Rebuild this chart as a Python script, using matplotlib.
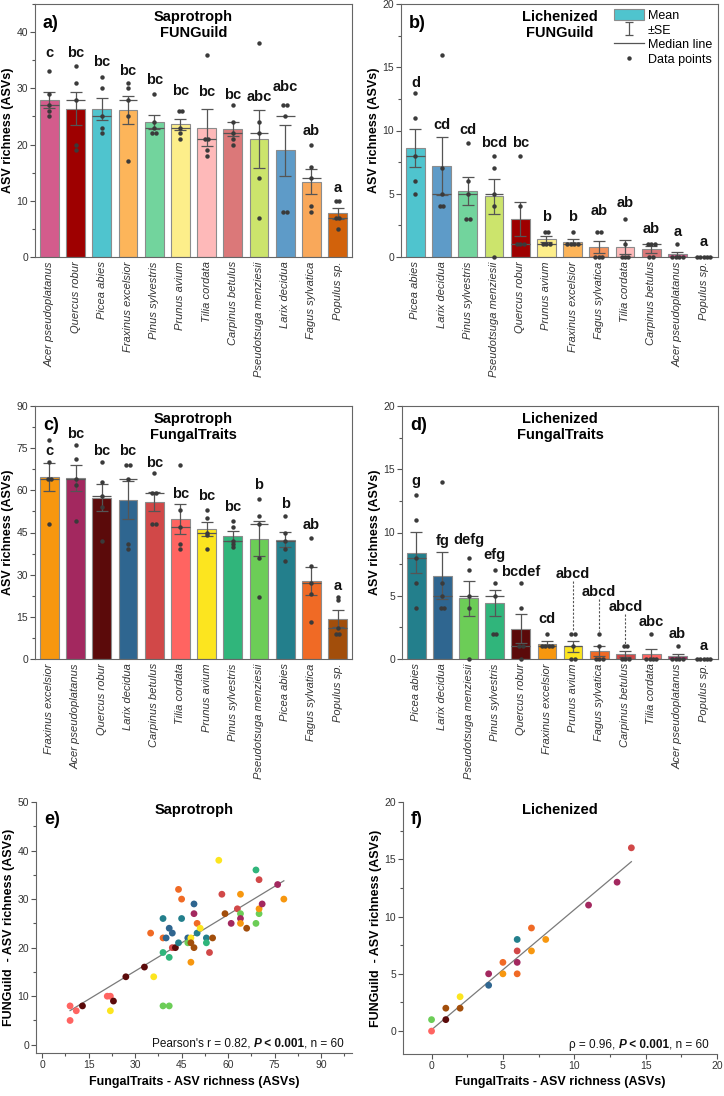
import numpy as np
import matplotlib
matplotlib.use('Agg')
import matplotlib.pyplot as plt
from matplotlib.patches import Patch
from matplotlib.lines import Line2D
from matplotlib.ticker import MultipleLocator

plt.rcParams['font.family'] = ['Liberation Sans', 'DejaVu Sans']
plt.rcParams['axes.edgecolor'] = '#666666'
plt.rcParams['xtick.color'] = '#555555'
plt.rcParams['ytick.color'] = '#555555'
plt.rcParams['xtick.labelcolor'] = '#333333'
plt.rcParams['ytick.labelcolor'] = '#333333'

# ---------------- colour palettes (per tree species) ----------------
pal_fg = {
    'Acer pseudoplatanus': '#D35C8C', 'Quercus robur': '#9E0000', 'Picea abies': '#4FC4CE',
    'Fraxinus excelsior': '#FDB55A', 'Pinus sylvestris': '#72D49D', 'Prunus avium': '#FDEE8A',
    'Tilia cordata': '#FEB9B9', 'Carpinus betulus': '#DB7879', 'Pseudotsuga menziesii': '#CCE46C',
    'Larix decidua': '#5E9BC8', 'Fagus sylvatica': '#F9A85A', 'Populus sp.': '#D2620B'}
pal_fg_b = dict(pal_fg)
pal_fg_b['Fagus sylvatica'] = '#F4935C'
pal_ft = {
    'Fraxinus excelsior': '#F7970F', 'Acer pseudoplatanus': '#A3285F', 'Quercus robur': '#5B0A0A',
    'Larix decidua': '#2F6690', 'Carpinus betulus': '#D14848', 'Tilia cordata': '#FF6461',
    'Prunus avium': '#FCE51F', 'Pinus sylvestris': '#30B57B', 'Pseudotsuga menziesii': '#6CCD57',
    'Picea abies': '#237F8C', 'Fagus sylvatica': '#F06A25', 'Populus sp.': '#A24E0B'}

# ---------------- a) Saprotroph FUNGuild ----------------
a_species = ['Acer pseudoplatanus', 'Quercus robur', 'Picea abies', 'Fraxinus excelsior',
             'Pinus sylvestris', 'Prunus avium', 'Tilia cordata', 'Carpinus betulus',
             'Pseudotsuga menziesii', 'Larix decidua', 'Fagus sylvatica', 'Populus sp.']
a_points = [[33, 29, 27, 26, 25], [34, 31, 28, 20, 19], [32, 30, 25, 23, 22],
            [31, 30, 28, 25, 17], [29, 24, 23, 22, 22], [26, 26, 23, 22, 21],
            [36, 21, 21, 19, 18], [27, 24, 22, 21, 20], [38, 24, 22, 14, 7],
            [27, 27, 25, 8, 8], [20, 16, 14, 9, 8], [10, 10, 7, 7, 5]]
a_letters = ['c', 'bc', 'bc', 'bc', 'bc', 'bc', 'bc', 'bc', 'abc', 'abc', 'ab', 'a']
a_letter_y = [36.2, 36.2, 34.7, 33.1, 31.5, 29.6, 29.3, 28.8, 28.4, 30.3, 22.4, 12.2]

# ---------------- b) Lichenized FUNGuild ----------------
b_species = ['Picea abies', 'Larix decidua', 'Pinus sylvestris', 'Pseudotsuga menziesii',
             'Quercus robur', 'Prunus avium', 'Fraxinus excelsior', 'Fagus sylvatica',
             'Tilia cordata', 'Carpinus betulus', 'Acer pseudoplatanus', 'Populus sp.']
b_points = [[13, 11, 8, 6, 5], [16, 7, 5, 4, 4], [9, 6, 5, 3, 3], [8, 7, 5, 4, 0],
            [8, 4, 1, 1, 1], [2, 2, 1, 1, 1], [2, 1, 1, 1, 1], [2, 2, 0, 0, 0],
            [3, 1, 0, 0, 0], [1, 1, 1, 0, 0], [1, 0, 0, 0, 0], [0, 0, 0, 0, 0]]
b_letters = ['d', 'cd', 'cd', 'bcd', 'bc', 'b', 'b', 'ab', 'ab', 'ab', 'a', 'a']
b_letter_y = [13.75, 10.4, 10.05, 9.0, 9.0, 3.2, 3.2, 3.6, 4.3, 2.2, 2.0, 1.2]

# ---------------- c) Saprotroph FungalTraits ----------------
c_species = ['Fraxinus excelsior', 'Acer pseudoplatanus', 'Quercus robur', 'Larix decidua',
             'Carpinus betulus', 'Tilia cordata', 'Prunus avium', 'Pinus sylvestris',
             'Pseudotsuga menziesii', 'Picea abies', 'Fagus sylvatica', 'Populus sp.']
c_points = [[78, 70, 64, 64, 48], [76, 71, 64, 62, 49], [70, 63, 58, 54, 42],
            [69, 69, 64, 41, 39], [66, 59, 59, 48, 48], [69, 53, 47, 41, 39],
            [53, 50, 45, 44, 39], [49, 47, 42, 41, 40], [57, 51, 48, 36, 22],
            [51, 45, 42, 39, 35], [43, 33, 27, 23, 13], [22, 21, 11, 9, 9]]
c_letters = ['c', 'bc', 'bc', 'bc', 'bc', 'bc', 'bc', 'bc', 'b', 'b', 'ab', 'a']
c_letter_y = [74, 80.2, 74, 74, 69.6, 58.8, 57.9, 54, 61.8, 55.3, 47.7, 25.8]

# ---------------- d) Lichenized FungalTraits ----------------
d_species = ['Picea abies', 'Larix decidua', 'Pseudotsuga menziesii', 'Pinus sylvestris',
             'Quercus robur', 'Fraxinus excelsior', 'Prunus avium', 'Fagus sylvatica',
             'Carpinus betulus', 'Tilia cordata', 'Acer pseudoplatanus', 'Populus sp.']
d_points = [[13, 11, 8, 6, 4], [14, 6, 5, 4, 4], [8, 7, 5, 4, 0], [7, 6, 5, 2, 2],
            [6, 4, 1, 1, 0], [2, 1, 1, 1, 1], [2, 2, 1, 0, 0], [2, 1, 0, 0, 0],
            [1, 1, 0, 0, 0], [2, 0, 0, 0, 0], [1, 0, 0, 0, 0], [0, 0, 0, 0, 0]]
d_letters = ['g', 'fg', 'defg', 'efg', 'bcdef', 'cd', 'abcd', 'abcd', 'abcd', 'abc', 'ab', 'a']
d_letter_y = [14.1, 9.3, 9.4, 8.2, 6.9, 3.2, 6.7, 5.3, 4.1, 2.9, 2.0, 1.0]
d_dashed = [6, 7, 8]

# ---------------- e) Saprotroph scatter ----------------
e_x = [9, 9, 11, 13, 21, 22, 22, 23, 27, 33, 36, 35, 39, 39, 40, 39, 39, 41, 41, 41,
       42, 42, 43, 44, 45, 45, 44, 47, 47, 48, 48, 48, 49, 49, 49, 50, 50, 51, 53, 53,
       54, 55, 58, 59, 61, 63, 64, 64, 64, 64, 66, 69, 70, 70, 71, 70, 76, 78, 57, 69]
e_y = [8, 5, 7, 8, 10, 10, 7, 9, 14, 16, 14, 23, 26, 22, 22, 19, 8, 8, 18, 24,
       23, 20, 20, 32, 30, 26, 21, 22, 21, 22, 21, 17, 20, 29, 27, 25, 23, 24, 22, 21,
       19, 22, 31, 27, 25, 28, 27, 31, 26, 25, 24, 25, 27, 28, 29, 34, 33, 30, 38, 36]
e_sp = ['Tilia cordata', 'Tilia cordata', 'Tilia cordata', 'Quercus robur', 'Tilia cordata',
        'Tilia cordata', 'Prunus avium', 'Quercus robur', 'Quercus robur', 'Quercus robur',
        'Prunus avium', 'Fagus sylvatica', 'Picea abies', 'Fagus sylvatica', 'Larix decidua',
        'Pinus sylvestris', 'Pseudotsuga menziesii', 'Pseudotsuga menziesii', 'Pinus sylvestris',
        'Larix decidua', 'Larix decidua', 'Carpinus betulus', 'Quercus robur', 'Fagus sylvatica',
        'Fagus sylvatica', 'Picea abies', 'Picea abies', 'Larix decidua', 'Pseudotsuga menziesii',
        'Prunus avium', 'Populus sp.', 'Fraxinus excelsior', 'Populus sp.', 'Larix decidua',
        'Acer pseudoplatanus', 'Fagus sylvatica', 'Picea abies', 'Prunus avium', 'Picea abies',
        'Pinus sylvestris', 'Carpinus betulus', 'Populus sp.', 'Carpinus betulus', 'Populus sp.',
        'Acer pseudoplatanus', 'Carpinus betulus', 'Pseudotsuga menziesii', 'Fraxinus excelsior',
        'Acer pseudoplatanus', 'Fraxinus excelsior', 'Populus sp.', 'Pseudotsuga menziesii',
        'Pseudotsuga menziesii', 'Fraxinus excelsior', 'Acer pseudoplatanus', 'Carpinus betulus',
        'Acer pseudoplatanus', 'Fraxinus excelsior', 'Prunus avium', 'Pinus sylvestris']

# ---------------- f) Lichenized scatter (value pairs and their counts) ----------------
f_x = [0, 0, 1, 1, 2, 2, 4, 4, 5, 5, 6, 6, 6, 6, 7, 7, 8, 11, 13, 14]
f_y = [0, 1, 1, 2, 2, 3, 4, 5, 5, 6, 5, 6, 7, 8, 7, 9, 8, 11, 13, 16]
f_n = [20, 3, 11, 2, 5, 1, 2, 1, 2, 1, 1, 2, 1, 1, 2, 1, 1, 1, 1, 1]
f_sp = ['Tilia cordata', 'Pseudotsuga menziesii', 'Quercus robur', 'Populus sp.', 'Populus sp.',
        'Prunus avium', 'Larix decidua', 'Acer pseudoplatanus', 'Fraxinus excelsior',
        'Fagus sylvatica', 'Fagus sylvatica', 'Acer pseudoplatanus', 'Carpinus betulus',
        'Picea abies', 'Fraxinus excelsior', 'Fagus sylvatica', 'Fraxinus excelsior',
        'Acer pseudoplatanus', 'Acer pseudoplatanus', 'Carpinus betulus']

GRAY = '#555555'
W, H = 724, 1096
fig = plt.figure(figsize=(W / 100, H / 100), dpi=100)


def rect(l, r, t, b):
    return [l / W, 1 - b / H, (r - l) / W, (b - t) / H]


def bar_panel(ax, species, points, letters, letter_y, pal, ymax, major, minor,
              title, label, dashed=()):
    n = len(species)
    x = np.arange(n)
    means = np.array([np.mean(p) for p in points])
    ses = np.array([np.std(p, ddof=1) / np.sqrt(len(p)) for p in points])
    meds = np.array([np.median(p) for p in points])
    ax.bar(x, means, width=0.72, color=[pal[s] for s in species],
           edgecolor='#8c8c8c', linewidth=0.8, zorder=1)
    ax.errorbar(x, means, yerr=ses, fmt='none', ecolor=GRAY, elinewidth=0.9,
                capsize=4, capthick=0.9, zorder=3)
    ax.hlines(meds, x - 0.36, x + 0.36, color=GRAY, lw=0.9, zorder=3)
    for i, p in enumerate(points):
        vals, counts = np.unique(p, return_counts=True)
        for v, c in zip(vals, counts):
            offs = (np.arange(c) - (c - 1) / 2) * 0.13
            ax.plot(i + offs, np.full(c, v), 'o', ms=3.2, color='#3a3a3a',
                    mec='none', zorder=4, clip_on=False)
    for i, (t, yv) in enumerate(zip(letters, letter_y)):
        ax.text(i, yv, t, ha='center', va='center', fontsize=10.5,
                fontweight='bold', color='#111111', zorder=5)
        if i in dashed:
            ax.plot([i, i], [yv - 0.55, max(points[i]) + 0.2], ls=(0, (2, 1.5)),
                    color=GRAY, lw=0.8, zorder=3)
    ax.set_xlim(-0.55, n - 0.45)
    ax.set_ylim(0, ymax)
    ax.yaxis.set_major_locator(MultipleLocator(major))
    ax.yaxis.set_minor_locator(MultipleLocator(minor))
    ax.set_xticks(x)
    ax.set_xticklabels(species, rotation=90, fontstyle='italic', fontsize=8)
    ax.tick_params(axis='x', length=0, pad=3)
    ax.tick_params(axis='y', which='major', length=3.5, width=0.8, labelsize=7.5, pad=1.5)
    ax.tick_params(axis='y', which='minor', length=2.2, width=0.8)
    ax.set_ylabel('ASV richness (ASVs)', fontsize=9, fontweight='bold', labelpad=2)
    ax.text(0.5, 0.975, title, transform=ax.transAxes, ha='center', va='top',
            fontsize=10.5, fontweight='bold', linespacing=1.15)
    ax.text(0.025, 0.955, label, transform=ax.transAxes, ha='left', va='top',
            fontsize=13, fontweight='bold')


ax_a = fig.add_axes(rect(35, 352, 4, 257))
bar_panel(ax_a, a_species, a_points, a_letters, a_letter_y, pal_fg, 45, 10, 5,
          'Saprotroph\nFUNGuild', 'a)')

ax_b = fig.add_axes(rect(401, 718, 4, 257))
bar_panel(ax_b, b_species, b_points, b_letters, b_letter_y, pal_fg_b, 20, 5, 2.5,
          'Lichenized\nFUNGuild', 'b)')
ebh = ax_b.errorbar([np.nan], [np.nan], yerr=[1], fmt='none', ecolor=GRAY,
                    elinewidth=0.9, capsize=3, capthick=0.9)
handles = [Patch(facecolor=pal_fg['Picea abies'], edgecolor='#8c8c8c', linewidth=0.8),
           ebh,
           Line2D([], [], color=GRAY, lw=0.9),
           Line2D([], [], ls='', marker='o', ms=3.2, color='#3a3a3a', mec='none')]
ax_b.legend(handles, ['Mean', '\u00b1SE', 'Median line', 'Data points'],
            loc='upper right', bbox_to_anchor=(1.005, 1.01), frameon=False,
            fontsize=9, handlelength=2.4, handleheight=1.0, labelspacing=0.15,
            handletextpad=0.3, borderaxespad=0.2)

ax_c = fig.add_axes(rect(35, 352, 406, 659))
bar_panel(ax_c, c_species, c_points, c_letters, c_letter_y, pal_ft, 90, 15, 7.5,
          'Saprotroph\nFungalTraits', 'c)')

ax_d = fig.add_axes(rect(402, 718, 406, 659))
bar_panel(ax_d, d_species, d_points, d_letters, d_letter_y, pal_ft, 20, 5, 2.5,
          'Lichenized\nFungalTraits', 'd)', dashed=d_dashed)


def stats_text(ax, parts):
    # parts listed left to right; drawn right to left, chained on each other
    anchor = None
    for txt, wt, st in reversed(parts):
        if anchor is None:
            anchor = ax.text(0.975, 0.012, txt, transform=ax.transAxes, ha='right',
                             va='bottom', fontsize=8.5, fontweight=wt, fontstyle=st,
                             color='#111111')
        else:
            anchor = ax.annotate(txt, xy=(0, 0), xycoords=anchor, ha='right',
                                 va='bottom', fontsize=8.5, fontweight=wt,
                                 fontstyle=st, color='#111111')


def scatter_panel(ax, xs, ys, cols, weights, xlim, ylim, xmaj, xmin_, ymaj, ymin_,
                  title, label, parts):
    ax.scatter(xs, ys, c=cols, s=24, linewidths=0, zorder=3)
    xs_w = np.repeat(xs, weights)
    ys_w = np.repeat(ys, weights)
    coef = np.polyfit(xs_w, ys_w, 1)
    xx = np.array([min(xs), max(xs)])
    ax.plot(xx, np.polyval(coef, xx), color='#7a7a7a', lw=0.9, zorder=2)
    ax.set_xlim(*xlim)
    ax.set_ylim(*ylim)
    ax.xaxis.set_major_locator(MultipleLocator(xmaj))
    ax.xaxis.set_minor_locator(MultipleLocator(xmin_))
    ax.yaxis.set_major_locator(MultipleLocator(ymaj))
    ax.yaxis.set_minor_locator(MultipleLocator(ymin_))
    ax.tick_params(which='major', length=3.5, width=0.8, labelsize=7.5, pad=1.5)
    ax.tick_params(which='minor', length=2.2, width=0.8)
    ax.spines['top'].set_visible(False)
    ax.spines['right'].set_visible(False)
    ax.set_xlabel('FungalTraits - ASV richness (ASVs)', fontsize=9, fontweight='bold',
                  labelpad=4)
    ax.set_ylabel('FUNGuild  - ASV richness (ASVs)', fontsize=9, fontweight='bold',
                  labelpad=2)
    ax.text(0.5, 0.995, title, transform=ax.transAxes, ha='center', va='top',
            fontsize=10.5, fontweight='bold')
    ax.text(0.025, 0.965, label, transform=ax.transAxes, ha='left', va='top',
            fontsize=13, fontweight='bold')
    stats_text(ax, parts)


ax_e = fig.add_axes(rect(36, 352, 802, 1053))
scatter_panel(ax_e, np.array(e_x), np.array(e_y), [pal_ft[s] for s in e_sp],
              np.ones(len(e_x), dtype=int), (-2, 100), (-1.7, 50), 15, 7.5, 10, 5,
              'Saprotroph', 'e)',
              [("Pearson's r = 0.82, ", 'normal', 'normal'), ('P', 'bold', 'italic'),
               (' < 0.001', 'bold', 'normal'), (', n = 60', 'normal', 'normal')])

ax_f = fig.add_axes(rect(403, 717, 802, 1054))
scatter_panel(ax_f, np.array(f_x), np.array(f_y), [pal_ft[s] for s in f_sp],
              np.array(f_n), (-2, 20), (-2, 20), 5, 2.5, 5, 2.5,
              'Lichenized', 'f)',
              [('\u03c1 = 0.96, ', 'normal', 'normal'), ('P', 'bold', 'italic'),
               (' < 0.001', 'bold', 'normal'), (', n = 60', 'normal', 'normal')])

fig.savefig('out.png', dpi=100)
